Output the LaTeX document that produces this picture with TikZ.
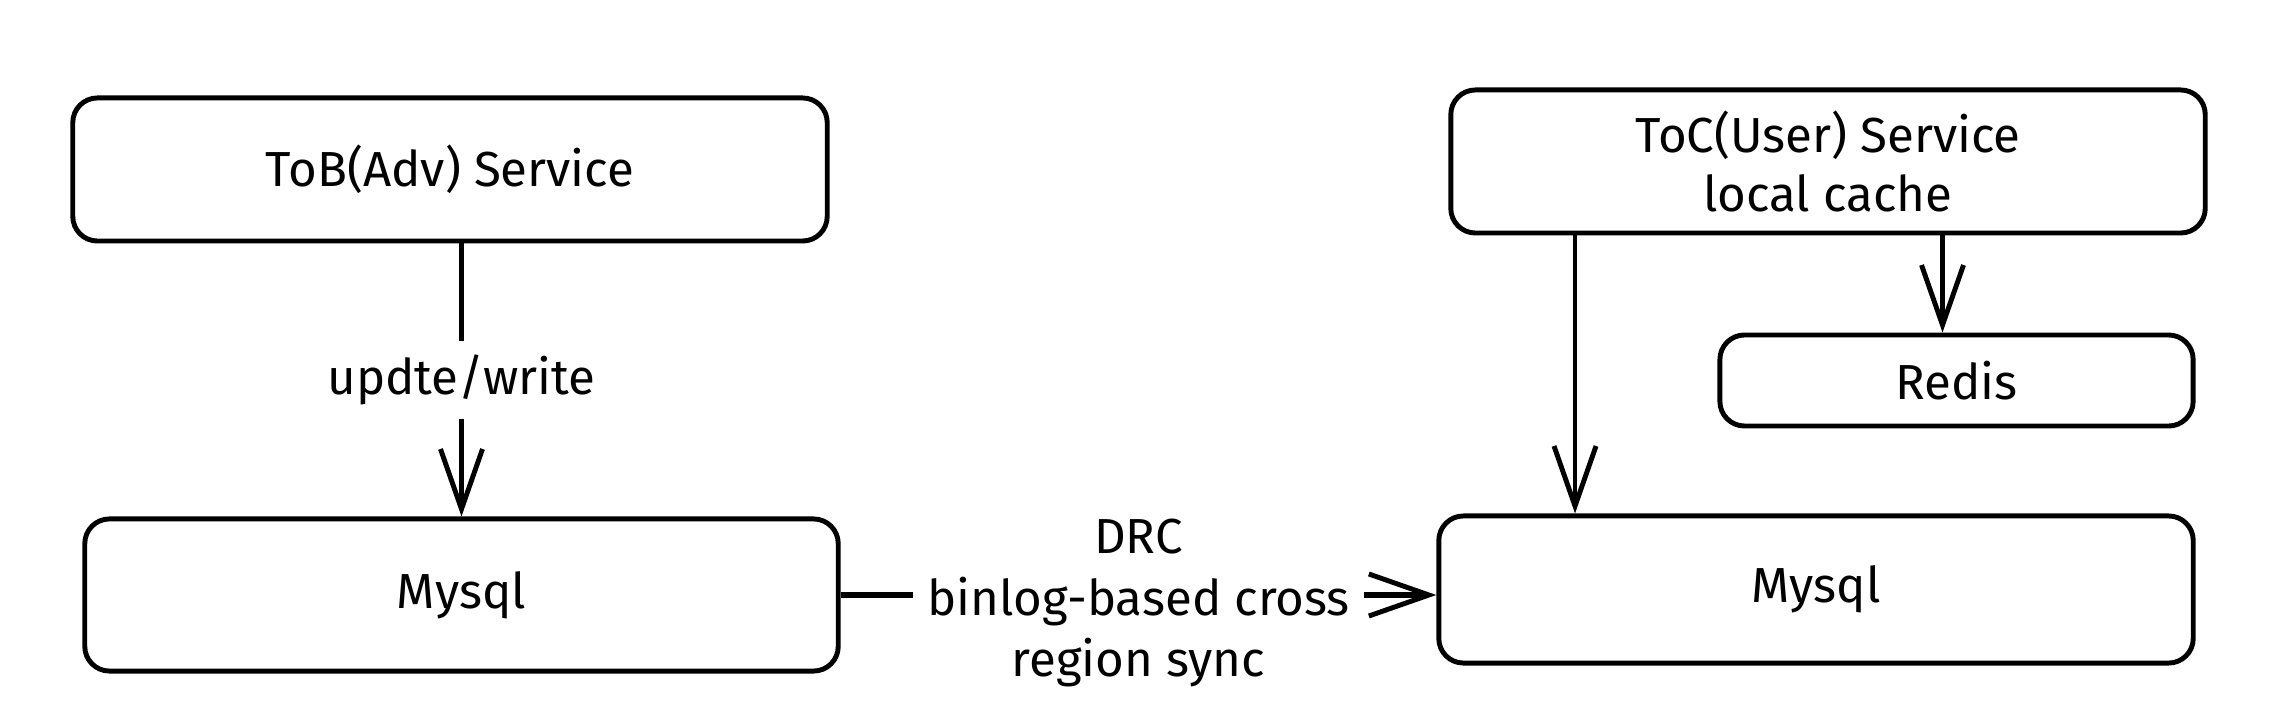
\documentclass[tikz,border=0pt]{standalone}
\usepackage{fontspec}
\setmainfont{Fira Sans}
\usetikzlibrary{positioning, arrows.meta}

\begin{document}
\begin{tikzpicture}[x=0.01cm, y=-0.01cm,
        box/.style={draw, line width=1.4pt, rounded corners=7pt, inner sep=0pt,
            align=center, font=\fontsize{14}{16.5}\selectfont},
        flow/.style={line width=1.4pt,
            -{Straight Barb[length=6mm, width=4.2mm, line width=1.4pt]}},
        lbl/.style={fill=white, align=center, inner xsep=4pt, inner ysep=4pt,
            font=\fontsize{14}{17.5}\selectfont}]
        \useasboundingbox (0, 0) rectangle (2286, 722);

        % 左侧：ToB 服务与其数据库
        \node[box, minimum width=7.54cm, minimum height=1.43cm] (tob) at (450, 169.5) {ToB(Adv) Service};
        \node[box, minimum width=7.53cm, minimum height=1.52cm] (mysqlL) at (461.5, 595) {Mysql};

        % 右侧：ToC 服务、Redis 与数据库
        \node[box, minimum width=7.54cm, minimum height=1.43cm] (toc) at (1828, 161.5) {ToC(User) Service\\local cache};
        \node[box, minimum width=4.73cm, minimum height=0.91cm] (redis) at (1956.5, 380.5) {Redis};
        \node[box, minimum width=7.54cm, minimum height=1.47cm] (mysqlR) at (1816, 589.5) {Mysql};

        % 写入
        \draw[flow] (mysqlL.north |- tob.south) -- (mysqlL.north)
            node[lbl, midway] {updte/write};

        % 读取
        \coordinate (tocL) at (1575, 589.5);
        \draw[flow] (tocL |- toc.south) -- (tocL |- mysqlR.north);
        \draw[flow] ([xshift=-0.14cm]redis.north |- toc.south) -- ([xshift=-0.14cm]redis.north);

        % 跨区域同步
        \draw[flow, line width=1.9pt] (mysqlL.east) -- (mysqlR.west |- mysqlL.east)
            node[lbl, midway, yshift=-0.08cm] {DRC\\binlog-based cross\\region sync};
    \end{tikzpicture}
\end{document}
